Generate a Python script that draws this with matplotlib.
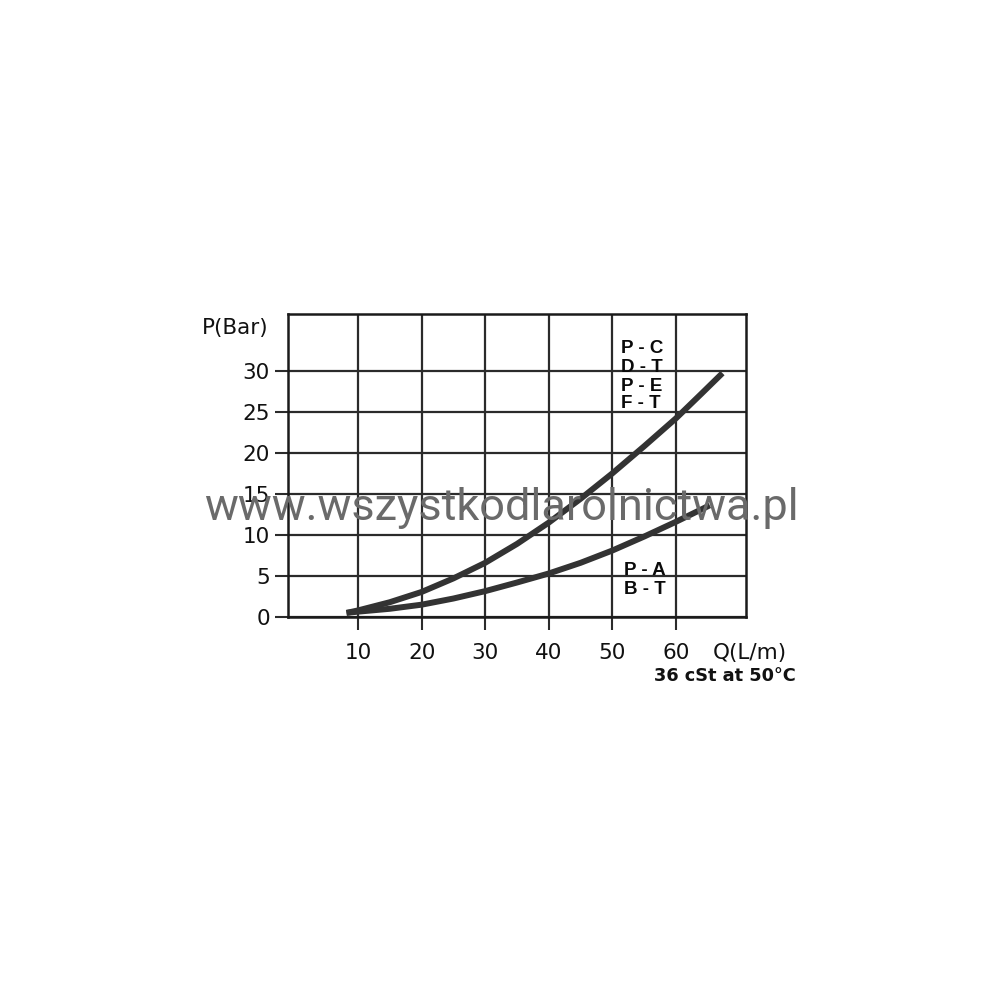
import matplotlib
matplotlib.use("Agg")
import matplotlib.pyplot as plt

# ---- data ----
x_upper = [8.2, 10, 15, 20, 25, 30, 35, 40, 45, 50, 55, 60, 64, 67.3]
p_upper = [0.5, 0.8, 1.8, 3.05, 4.7, 6.6, 8.9, 11.5, 14.4, 17.5, 20.8, 24.2, 27.2, 29.7]
x_lower = [8.2, 10, 15, 20, 25, 30, 35, 40, 45, 50, 55, 60, 65.3]
p_lower = [0.5, 0.65, 1.0, 1.5, 2.25, 3.15, 4.2, 5.3, 6.6, 8.1, 9.8, 11.6, 13.6]
x_ticks = [10, 20, 30, 40, 50, 60]
y_ticks = [0, 5, 10, 15, 20, 25, 30]
labels_upper = ["P - C", "D - T", "P - E", "F - T"]
labels_lower = ["P - A", "B - T"]

fig = plt.figure(figsize=(10, 10), dpi=100)
ax = fig.add_axes([0.288, 0.383, 0.458, 0.303])
ax.set_xlim(-1, 71)
ax.set_ylim(0, 36.9)

grid_c = "#2b2b2b"
ax.set_xticks(x_ticks)
ax.set_yticks(y_ticks)
ax.set_xticklabels([str(v) for v in x_ticks])
ax.set_yticklabels([str(v) for v in y_ticks])
ax.grid(True, color=grid_c, linewidth=1.6)
ax.set_axisbelow(True)
ax.tick_params(axis="x", length=9.4, width=1.5, color=grid_c, pad=9.0,
               labelsize=15.5, labelcolor="#111111")
ax.tick_params(axis="y", length=9.4, width=1.5, color=grid_c, pad=3.6,
               labelsize=15.5, labelcolor="#111111")
for s in ax.spines.values():
    s.set_linewidth(1.8)
    s.set_color("#1a1a1a")

curve_c = "#333333"
ax.plot(x_upper, p_upper, color=curve_c, linewidth=4.3, solid_capstyle="butt",
        solid_joinstyle="round", zorder=3)
ax.plot(x_lower, p_lower, color=curve_c, linewidth=4.3, solid_capstyle="butt",
        solid_joinstyle="round", zorder=3)

lab_font = dict(family=["Liberation Sans", "DejaVu Sans"], weight="bold",
                size=13.5, color="#0a0a0a", va="baseline", ha="left", zorder=4)
up_base = [32.16, 29.84, 27.52, 25.45]
for t, yb in zip(labels_upper, up_base):
    ax.text(51.3, yb, t, **lab_font)
lo_base = [5.09, 2.85]
for t, yb in zip(labels_lower, lo_base):
    ax.text(51.8, yb, t, **lab_font)

fig.text(0.2017, 0.666, "P(Bar)", fontsize=15.5, color="#111111", va="baseline", ha="left")
fig.text(0.713, 0.3415, "Q(L/m)", fontsize=15.5, color="#111111", va="baseline", ha="left")
fig.text(0.796, 0.3193, "36 cSt at 50°C", fontsize=12.8, weight="bold",
         color="#111111", va="baseline", ha="right")

# watermark
fig.text(0.501, 0.480, "www.wszystkodlarolnictwa.pl", family=["Roboto", "DejaVu Sans"],
         fontweight="normal", fontsize=32.5, color="#6a6a6a", va="baseline", ha="center",
         zorder=10)

fig.savefig("out.png", dpi=100, facecolor="white")
